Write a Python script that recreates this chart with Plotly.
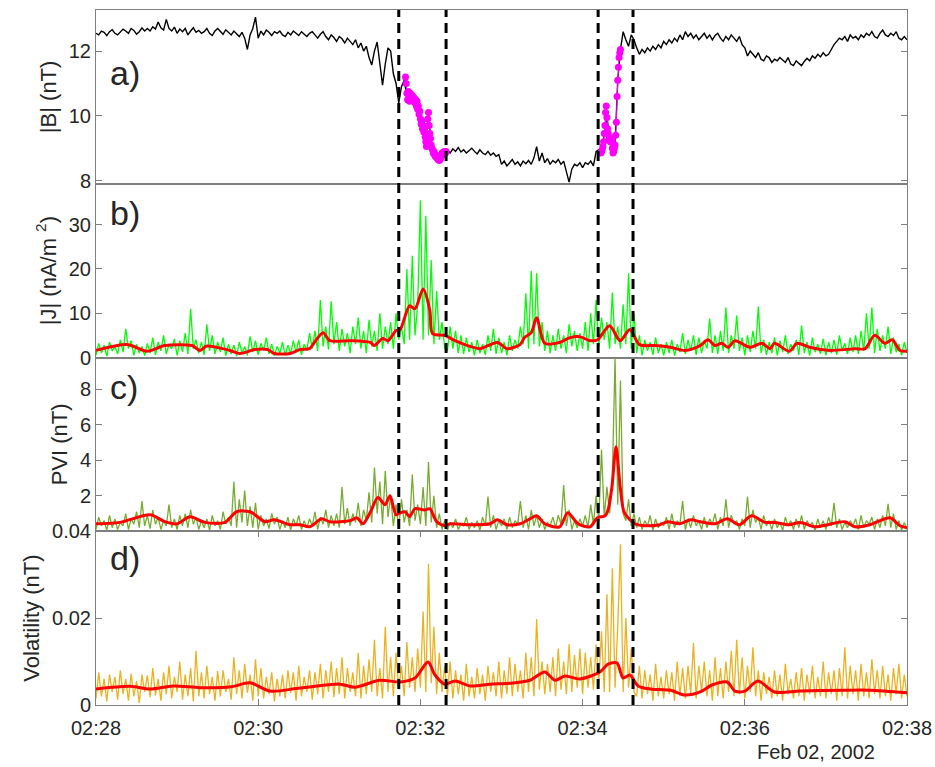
import numpy as np
import pandas as pd
import plotly.graph_objects as go
from plotly.subplots import make_subplots

# ---------------- data (seconds after 02:28:00, 2002-02-02) ----------------
# |B| (nT), sampled every 2 s from 0 to 600 s
B_vals = [
    12.55,12.5,12.62,12.58,12.48,12.6,12.66,12.55,12.5,12.6,
    12.68,12.62,12.55,12.7,12.64,12.52,12.6,12.72,12.62,12.7,
    12.62,12.75,12.68,12.9,12.72,12.65,12.98,12.7,12.62,12.74,
    12.55,12.68,12.6,12.7,12.5,12.62,12.72,12.58,12.64,12.55,
    12.6,12.7,12.55,12.48,12.62,12.7,12.6,12.52,12.66,12.58,
    12.5,12.62,12.55,12.45,12.58,12.4,12.05,12.5,12.7,13.05,
    12.4,12.62,12.5,12.65,12.58,12.48,12.6,12.55,12.62,12.5,
    12.45,12.58,12.5,12.62,12.55,12.48,12.6,12.52,12.45,12.55,
    12.6,12.5,12.4,12.52,12.6,12.45,12.35,12.5,12.42,12.3,
    12.45,12.38,12.25,12.4,12.3,12.2,12.35,12.1,12.25,12.0,
    12.15,11.8,11.57,12.0,12.28,11.6,10.95,11.6,12.1,12.0,
    11.3,11.0,10.4,10.9,11.1,10.6,10.6,10.55,10.45,10.25,
    10.05,9.7,9.4,10.0,9.2,8.9,8.75,8.65,8.75,8.88,
    8.95,8.85,8.98,8.9,9.02,8.88,8.95,8.85,8.92,9.0,
    8.9,8.82,8.95,8.85,8.8,8.9,8.78,8.85,8.75,8.8,
    8.5,8.6,8.45,8.55,8.65,8.5,8.58,8.45,8.6,8.52,
    8.62,8.5,8.7,9.05,8.6,8.85,8.55,8.68,8.5,8.62,
    8.55,8.65,8.5,8.6,8.3,7.95,8.35,8.5,8.45,8.55,
    8.4,8.55,8.5,8.6,8.45,8.9,8.95,8.85,9.45,10.0,
    9.25,9.0,9.1,11.1,12.05,12.6,12.35,12.15,12.5,12.35,
    12.1,11.9,12.05,11.95,12.1,12.0,12.15,12.05,12.2,12.1,
    12.3,12.2,12.35,12.25,12.4,12.3,12.5,12.35,12.6,12.45,
    12.55,12.4,12.5,12.35,12.45,12.55,12.4,12.5,12.35,12.48,
    12.55,12.4,12.3,12.45,12.35,12.5,12.4,12.3,12.45,12.2,
    12.1,11.85,12.0,11.9,11.8,11.95,11.75,11.7,11.85,11.8,
    11.65,11.75,11.7,11.8,11.72,11.65,11.8,11.6,11.55,11.7,
    11.62,11.55,11.68,11.78,11.7,11.85,11.78,11.9,11.82,11.95,
    11.85,11.9,12.05,12.2,12.3,12.4,12.35,12.45,12.3,12.5,
    12.4,12.45,12.35,12.5,12.42,12.55,12.48,12.6,12.45,12.4,
    12.55,12.65,12.5,12.45,12.55,12.48,12.6,12.4,12.35,12.45,
    12.35,
]

# highlighted |B| intervals (every 0.5 s)
mag1_start, mag1_end = 229.0, 259.0
mag1_vals = [
    11.2,11.0,10.7,10.5,10.75,10.6,10.45,10.7,10.55,10.65,
    10.5,10.6,10.45,10.55,10.4,10.5,10.3,10.45,10.2,10.3,
    10.05,10.15,9.9,9.75,9.85,9.6,9.7,9.5,9.55,9.35,
    9.2,9.05,9.4,9.9,10.1,9.7,9.45,9.3,9.1,9.0,
    8.95,8.85,8.9,8.8,8.75,8.8,8.7,8.72,8.65,8.68,
    8.62,8.65,8.7,8.78,8.85,8.8,8.88,8.82,8.9,8.85,
    8.9,
]
mag2_start, mag2_end = 373.5, 388.0
mag2_vals = [
    8.85,8.9,8.95,9.05,9.2,9.45,9.7,10.1,10.3,9.95,
    9.6,9.45,9.3,9.25,9.2,9.3,9.2,9.0,8.85,8.9,
    9.0,9.1,9.4,9.8,10.6,11.1,11.5,11.8,11.95,12.05,
]

# |J| (nA/m^2), every 2 s
J_vals = [
    0.5,3.2,1,2.8,0.3,3.5,1.5,2.5,0.8,4,
    1.2,6.5,2,3.8,0.5,3,1,2.5,0.4,3.2,
    1,4.5,0.6,3.5,1.5,5,0.8,3,2,4.2,
    0.5,3.8,1.2,5.5,0.8,11,2,4,1,3.5,
    0.6,7.5,1.5,5,0.8,3.5,1.2,4.5,0.4,3,
    0.8,2.8,0.3,3.5,1,2.5,0.5,4.8,1.2,3.8,
    0.6,3.2,1.5,4.5,0.8,3,0.4,2.5,1,3.5,
    0.5,2.8,0.8,3.8,1.2,4,0.6,3,1.5,5.5,
    2,6,1.5,13,2.5,7,1.8,12.7,3,8,
    1.5,6.5,2.5,5.5,1,7,3,9,2,6,
    1,8.5,2.5,6,1.5,10,2,7,3,8,
    2,10,4,7,3,20,4,23,5,12,
    35.5,4,32,5,22,3,15,4,8,2,
    1.5,7,2,6,1,5,0.8,4.5,1.2,3.5,
    0.5,4,1,3,0.6,5,1.5,6.5,0.8,4.5,
    1,3.5,0.5,5,1.5,4,2,7,3,14.5,
    2,19.6,3,19,2.5,8,1.5,6,1,5,
    1.5,6.5,2,5,1,7.5,2.5,6,1.5,5.5,
    2,8,1.5,10,3,13,2.5,9,4,8,
    2,14.7,3,7,2,12,3,19,2,10,
    1,5,0.5,4,1.5,3.5,0.6,4.5,1,3,
    0.5,3.5,1,4,0.4,3,1.2,5.5,0.8,4,
    1.5,5,0.6,4.5,1,3.8,2,8.8,1,5,
    0.8,6,1.5,11.3,1,5,2,9.5,1.5,4.5,
    0.5,5,1.2,6,2,11.5,1,4,0.6,3.5,
    1,4.5,0.5,3.8,1.2,5,0.8,3,1.5,4,
    0.6,7.2,1,3.5,0.4,4.5,1.2,3,0.8,4.2,
    0.5,3.5,1,4,0.6,5,1.5,3.2,0.8,4.5,
    1.2,5,0.8,6,1.5,10,2,11.3,1,6.5,
    1.5,5,2,7,0.8,4.5,1.2,3,0.5,3.5,
    1,
]
J_avg_t = [0,23.7,37.7,51,71,77,82,99,106.5,117.6,127,132,143.5,151,158,162,168,173,188,
           203,206,212,216,222,225,232,236,242,247,249,258,265.6,276.7,284,297,304,313.7,
           317,322,326,332,343,350.7,358,365.5,371,380,387.7,395,402,413.6,425,435.8,447,
           452.8,458,463,467.6,472.7,483.8,492.7,498.6,502,513,518.6,528,543,561.5,569,576,
           583.7,589,594.8,600]
J_avg = [1.6,2.9,1.4,2.7,2.7,1.6,2.6,1.6,0.9,1.8,1.8,0.9,0.9,1.8,2.0,3.6,5.6,3.8,3.8,
         3.4,2.7,4.3,3.8,6.1,6.3,11.7,11.0,15.5,10.6,5.4,5.0,3.8,2.5,2.0,3.4,2.0,2.9,
         4.5,5.6,9.0,3.2,3.4,4.5,4.7,3.8,4.0,7.2,3.8,6.3,2.9,2.7,2.3,1.6,2.7,
         4.0,2.7,3.2,2.3,3.8,2.3,3.2,2.0,3.2,1.4,3.2,2.3,1.6,2.0,2.0,5.0,
         3.2,4.0,1.6,1.4]

# PVI (nT), every 2 s
PVI_vals = [
    0.1,0.8,0.3,0.6,0.05,0.9,0.2,0.7,0.1,0.5,
    0.3,1.0,0.1,0.7,0.4,1.1,0.2,1.7,0.3,0.9,
    0.15,1.2,0.4,0.8,0.1,0.6,0.3,1.5,0.2,0.7,
    0.1,0.9,0.3,1.0,0.2,1.2,0.4,0.8,0.1,0.6,
    0.2,0.7,0.05,0.9,0.3,0.6,0.1,1.1,0.4,0.8,
    0.3,2.8,0.2,1.8,0.5,2.3,0.3,1.4,0.2,1.6,
    0.1,0.9,0.3,0.7,0.15,1.0,0.4,0.8,0.1,0.6,
    0.2,0.8,0.05,0.7,0.3,0.9,0.1,0.6,0.2,0.7,
    0.3,1.1,0.1,0.8,0.4,1.2,0.2,0.9,0.3,1.0,
    0.2,2.5,0.4,1.3,0.3,1.0,0.5,1.6,0.3,1.2,
    0.6,2.2,0.5,3.6,1.0,2.8,0.4,3.4,0.8,2.0,
    0.3,1.5,0.2,1.8,0.5,1.2,0.3,3.2,0.6,1.5,
    0.4,2.5,0.3,3.9,0.5,2.0,0.2,1.0,0.1,0.6,
    0.05,0.5,0.2,0.7,0.1,0.4,0.3,0.8,0.1,0.5,
    0.2,0.6,0.05,0.8,0.3,1.96,0.2,0.9,0.1,0.6,
    0.3,0.7,0.1,0.8,0.2,0.6,0.4,1.7,0.2,0.9,
    0.1,1.2,0.3,0.9,0.2,0.7,0.1,0.5,0.3,0.8,
    0.2,0.9,0.4,2.6,0.3,1.2,0.1,0.6,0.2,0.7,
    0.3,0.9,0.2,1.5,0.4,2.0,0.6,4.6,0.8,2.5,
    1.0,3.0,9.8,1.5,8.5,1.0,0.6,1.8,0.3,1.0,
    0.2,0.8,0.1,0.6,0.3,0.9,0.05,0.7,0.2,0.5,
    0.3,0.8,0.1,1.0,0.2,0.6,0.4,1.7,0.1,0.7,
    0.2,0.9,0.3,0.6,0.1,0.8,0.2,0.7,0.4,1.0,
    0.1,0.8,0.3,1.8,0.2,0.9,0.4,0.6,0.1,0.7,
    0.3,1.96,0.2,1.2,0.5,0.8,0.1,0.9,0.3,0.6,
    0.1,0.7,0.2,0.5,0.05,0.8,0.3,0.6,0.1,0.7,
    0.2,0.9,0.1,0.6,0.3,0.5,0.05,0.7,0.2,0.6,
    0.1,0.8,0.3,1.6,0.2,0.7,0.1,0.5,0.2,0.6,
    0.3,0.7,0.1,0.9,0.2,0.6,0.4,0.8,0.1,0.7,
    0.2,0.9,0.3,1.55,0.2,1.0,0.1,0.6,0.05,0.5,
    0.1,
]
PVI_avg_t = [0,17.8,40,51,60,69.5,80.6,95.4,104,114,125,132,143.5,151,158,167,173,188,193,
             197.5,202.7,208.6,213.8,217.5,222,225,228.6,232,236,243,247,252,258,262,276.7,
             291.5,297,304,313.7,321,326,332,343,349,356.6,365.5,371,376.6,378.8,381.7,384.7,
             387.7,390.6,395,398.8,406,417,423,432,440,447,458,467,476,485,495,502,513,521,
             532,541.5,554,561.5,572.6,587.4,594.8,600]
PVI_avg = [0.42,0.5,0.93,0.54,0.42,0.82,0.5,0.5,1.1,1.1,0.54,0.65,0.37,0.37,0.25,0.7,0.54,0.6,0.76,
           0.42,1.04,1.9,1.5,2.0,0.93,1.04,1.1,0.82,1.27,1.2,1.27,0.54,0.31,0.42,0.37,
           0.42,0.65,0.37,0.42,0.7,0.87,0.42,0.25,1.04,0.42,0.25,0.76,0.87,1.2,2.5,4.76,
           2.6,1.1,0.65,0.42,0.31,0.37,0.54,0.42,0.65,0.54,0.42,0.7,0.37,0.87,0.5,0.5,0.37,0.5,
           0.25,0.37,0.54,0.25,0.37,0.76,0.31,0.2]

# Volatility (units of 1e-3 nT), every 2 s
vol_milli = [
    1.5,7.5,2,6,0.8,7,3,6.5,1.2,8,
    2.5,6,1,7.2,2,5.5,0.5,7,3,6.8,
    1.8,8.5,2.2,6,1,7.5,2.5,9,1.5,6.5,
    3,10,1.2,7,2,8.5,0.8,12.5,2,7.5,
    1.5,9,2.5,6.5,1,7.8,2,8,3,6,
    1.2,11,2.5,8,1.5,9.5,2.8,7,1,10.5,
    2,8.5,1.5,6.5,2.5,7.5,0.8,6,2,7,
    1.5,8,2.8,7.5,1,9,2,6.5,3,8,
    1.2,7.5,2.5,9.5,1.5,8,3,10,1.8,8.5,
    2.5,11,1.5,8.5,3,7.5,2,12,1.5,9,
    2.5,10.5,3,15,2,8.5,1.5,18,3,11,
    2,12,3.5,9,2,14.5,4,11,3,13,
    4,21.5,3,32.5,5,18,2.5,12,3,9,
    2,10,1.5,8,2.5,7,1,9.5,2,6.5,
    1.5,8.5,2.5,7,1,9,3,7.5,2,10,
    1.5,8,2.5,11,2,9.5,3,8,1.5,12,
    3,11,2,19.8,3.5,10,2.5,9.5,3,11,
    2,13,3.5,10,2.5,14,3,11.5,4,13,
    2.5,12,4,11,3.5,14,5,17,3,25.5,
    3,31.5,4,18,37,3,20,4,13,3,
    2,9,1.5,8,2.5,7,1,9.5,2,6.5,
    1.5,8,2.5,7.5,1,10,2,8.5,1.5,9,
    2.5,14.3,1.5,9,3,10,2,8,1,11,
    2,8.5,1.5,10,3,12.5,2,15,2.5,11,
    1.5,9,3,13.3,2,8,1,7.5,2.5,6.5,
    1.5,8,2,7,1,9.5,2.5,6,1.5,7.5,
    2,8.5,1,7,2.5,9,1.5,6.5,2,10,
    1.5,7.5,2.5,8,1,8.5,2,13.3,1.5,9,
    2.5,8,1,9.5,2,7.5,1.5,10.5,2.5,8,
    1.5,9,2,7,1,8.5,2.5,9.5,1.5,7,
    2,
]
vol_avg_t = [0,25,40,57,77,100,114,128.7,151,180.5,191.6,210,225,236,245.6,250.8,258,265.6,
             276.7,291.5,306,321,332,339.6,347,358,372.8,378.8,385.4,390,395,401,410,425,
             435.8,447,455.7,467,472.7,480,489.7,502,521,554,572.6,600]
vol_avg_milli = [3.7,4.3,3.7,4.4,4.0,4.2,5.1,3.2,3.9,4.8,4.1,5.7,5.3,6.2,9.9,6.9,4.8,5.5,
                 4.4,4.8,5.0,5.7,7.6,5.7,6.7,6.0,7.6,9.4,9.7,6.2,6.9,4.4,3.7,3.4,
                 2.3,3.0,4.6,5.3,3.2,3.2,5.5,3.0,3.2,3.4,3.4,2.8]

event_lines_s = [224.0, 259.0, 371.5, 397.3]
x_tick_labels = ["02:28", "02:30", "02:32", "02:34", "02:36", "02:38"]
date_label = "Feb 02, 2002"

# ---------------- helpers ----------------
T0 = pd.Timestamp("2002-02-02 02:28:00")


def to_time(sec):
    return T0 + pd.to_timedelta(np.asarray(sec, dtype=float), unit="s")


def grid(vals, start=0.0, end=600.0):
    return to_time(np.linspace(start, end, len(vals)))


FONT = "Liberation Sans, Arial, Helvetica, sans-serif"
TXT = "#262626"
AX = "#7f7f7f"

fig = make_subplots(rows=4, cols=1, shared_xaxes=True, vertical_spacing=0)

# a) |B|
fig.add_trace(go.Scatter(x=grid(B_vals), y=B_vals, mode="lines",
                         line=dict(color="black", width=1.4)), row=1, col=1)
fig.add_trace(go.Scatter(x=grid(mag1_vals, mag1_start, mag1_end), y=mag1_vals,
                         mode="markers+lines", line=dict(color="#FF00FF", width=1),
                         marker=dict(color="#FF00FF", size=7)), row=1, col=1)
fig.add_trace(go.Scatter(x=grid(mag2_vals, mag2_start, mag2_end), y=mag2_vals,
                         mode="markers+lines", line=dict(color="#FF00FF", width=1),
                         marker=dict(color="#FF00FF", size=7)), row=1, col=1)

# b) |J|
fig.add_trace(go.Scatter(x=grid(J_vals), y=J_vals, mode="lines",
                         line=dict(color="#00FF00", width=1.3)), row=2, col=1)
fig.add_trace(go.Scatter(x=to_time(J_avg_t), y=J_avg, mode="lines",
                         line=dict(color="#FF0000", width=3, shape="spline", smoothing=0.8)),
              row=2, col=1)

# c) PVI
fig.add_trace(go.Scatter(x=grid(PVI_vals), y=PVI_vals, mode="lines",
                         line=dict(color="#77AC30", width=1.3)), row=3, col=1)
fig.add_trace(go.Scatter(x=to_time(PVI_avg_t), y=PVI_avg, mode="lines",
                         line=dict(color="#FF0000", width=3, shape="spline", smoothing=0.8)),
              row=3, col=1)

# d) Volatility
vol = np.array(vol_milli) * 1e-3
vol_avg = np.array(vol_avg_milli) * 1e-3
fig.add_trace(go.Scatter(x=grid(vol_milli), y=vol, mode="lines",
                         line=dict(color="#EDB120", width=1.3)), row=4, col=1)
fig.add_trace(go.Scatter(x=to_time(vol_avg_t), y=vol_avg, mode="lines",
                         line=dict(color="#FF0000", width=3, shape="spline", smoothing=0.8)),
              row=4, col=1)

# dashed event lines across all panels
for s in event_lines_s:
    ts = to_time([s])[0]
    fig.add_shape(type="line", xref="x4", yref="paper", x0=ts, x1=ts, y0=0, y1=1,
                  line=dict(color="black", width=3, dash="10px,6px"), layer="above")

# axes
tickvals_x = to_time([0, 120, 240, 360, 480, 600])
for r in range(1, 5):
    fig.update_xaxes(row=r, col=1, type="date", range=[to_time([0])[0], to_time([600])[0]],
                     showline=True, linecolor=AX, linewidth=1, mirror=True,
                     showgrid=False, zeroline=False, automargin=False,
                     tickvals=tickvals_x, ticktext=x_tick_labels,
                     ticks="inside" if r == 4 else "", ticklen=6, tickcolor=AX,
                     showticklabels=(r == 4),
                     tickfont=dict(family=FONT, size=20, color=TXT))
fig.update_xaxes(row=4, col=1, mirror="ticks", ticklabelstandoff=5)

yspecs = [
    ("|B| (nT)", [7.9, 13.27], [8, 10, 12], ["8", "10", "12"]),
    ("|J| (nA/m <sup>2</sup>)", [0, 39.25], [0, 10, 20, 30], ["0", "10", "20", "30"]),
    ("PVI (nT)", [0, 9.8], [2, 4, 6, 8], ["2", "4", "6", "8"]),
    ("Volatility (nT)", [0, 0.04], [0, 0.02, 0.04], ["0", "0.02", "0.04"]),
]
for r, (title, rng, tv, tt) in enumerate(yspecs, start=1):
    fig.update_yaxes(row=r, col=1, range=rng, tickvals=tv, ticktext=tt,
                     showline=True, linecolor=AX, linewidth=1, mirror="ticks",
                     ticks="inside", ticklen=6, tickcolor=AX,
                     showgrid=False, zeroline=False, automargin=False,
                     tickfont=dict(family=FONT, size=20, color=TXT),
                     title=dict(text=title, standoff=6,
                                font=dict(family=FONT, size=22, color=TXT)))

# panel letters
for r, (lab, ypos) in enumerate([("a)", 0.64), ("b)", 0.83), ("c)", 0.83), ("d)", 0.845)], start=1):
    fig.add_annotation(text=lab, xref="x domain" if r == 1 else f"x{r} domain",
                       yref="y domain" if r == 1 else f"y{r} domain",
                       x=0.015, y=ypos, xanchor="left", yanchor="middle", showarrow=False,
                       font=dict(family=FONT, size=34, color=TXT))

fig.add_annotation(text=date_label, xref="paper", yref="paper", x=0.888, y=-0.068,
                   xanchor="center", yanchor="middle", showarrow=False,
                   font=dict(family=FONT, size=20, color=TXT))

fig.update_layout(width=935, height=767,
                  margin=dict(l=96, r=28, t=10, b=62, autoexpand=False),
                  paper_bgcolor="white", plot_bgcolor="white", showlegend=False)

fig.write_html("out.html")
